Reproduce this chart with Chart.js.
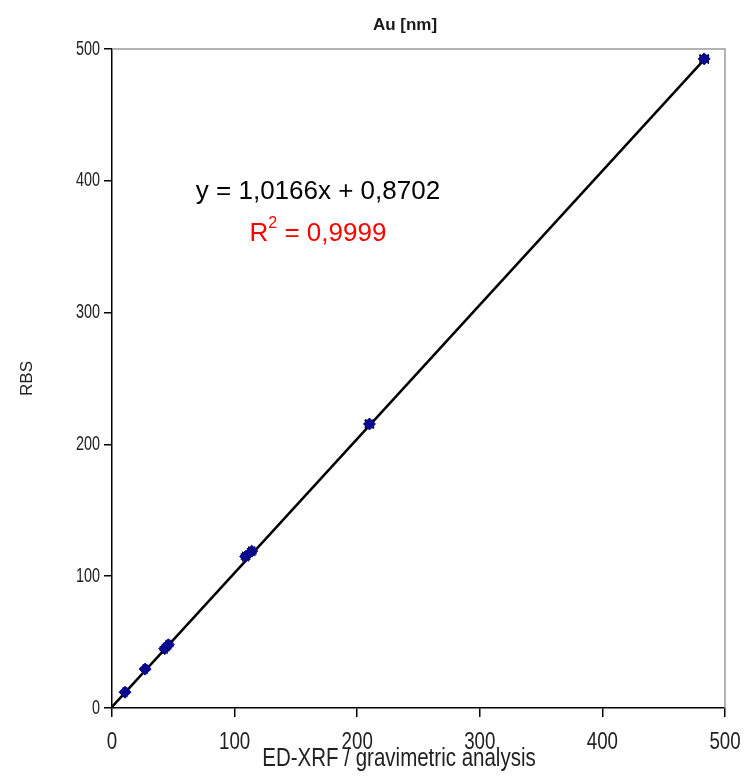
<!DOCTYPE html>
<html>
<head>
<meta charset="utf-8">
<script src="https://cdn.jsdelivr.net/npm/chart.js@4"></script>
<style>
  body { margin: 0; background: #fff; }
  canvas { display: block; }
</style>
</head>
<body>
<canvas id="auChart" width="749" height="779"></canvas>
<script>
// measured values (ED-XRF / gravimetric vs RBS), Au thickness in nm
const xVals = [10.6, 27, 43, 46, 109, 114, 210, 483];
const yVals = [12, 29.5, 45, 48, 115, 119, 215.5, 492.5];
const xErr  = [1.5, 1.5, 2, 2, 2.5, 2.5, 3, 3.3];
const yErr  = [1, 1, 1.5, 1.5, 2, 2, 2.5, 2.5];
const xTicks = [0, 100, 200, 300, 400, 500];
const yTicks = [0, 100, 200, 300, 400, 500];

// trendline from the fitted equation shown on the chart
const slope = 1.0166, intercept = 0.8702;
const trendX = [0, 486];
const eqAnchor = [168, 392];   // data position of the equation label

const points = xVals.map((x, i) => ({x: x, y: yVals[i]}));
const trend = trendX.map(x => ({x: x, y: slope * x + intercept}));

const SANS = '"Liberation Sans", Arial, sans-serif';

// narrow-looking text (original uses a condensed face)
function narrowText(ctx, txt, x, y, size, squeeze, align) {
  ctx.save();
  ctx.translate(x, y);
  ctx.scale(squeeze, 1);
  ctx.font = size + 'px ' + SANS;
  ctx.textAlign = align;
  ctx.fillText(txt, 0, 0);
  ctx.restore();
}

const extras = {
  id: 'extras',
  beforeDatasetsDraw(chart) {
    const {ctx, chartArea: a, scales: {x, y}} = chart;
    ctx.save();
    ctx.strokeStyle = '#9a9a9a';
    ctx.lineWidth = 1.5;
    ctx.beginPath();
    ctx.moveTo(a.left, a.top);
    ctx.lineTo(a.right, a.top);
    ctx.lineTo(a.right, a.bottom);
    ctx.stroke();

    // error bars
    ctx.strokeStyle = '#000';
    ctx.lineWidth = 1.2;
    const cap = 5;
    points.forEach((p, i) => {
      const px = x.getPixelForValue(p.x), py = y.getPixelForValue(p.y);
      const x0 = x.getPixelForValue(p.x - xErr[i]), x1 = x.getPixelForValue(p.x + xErr[i]);
      const y0 = y.getPixelForValue(p.y - yErr[i]), y1 = y.getPixelForValue(p.y + yErr[i]);
      ctx.beginPath();
      ctx.moveTo(x0, py); ctx.lineTo(x1, py);
      ctx.moveTo(x0, py - cap); ctx.lineTo(x0, py + cap);
      ctx.moveTo(x1, py - cap); ctx.lineTo(x1, py + cap);
      ctx.moveTo(px, y0); ctx.lineTo(px, y1);
      ctx.moveTo(px - cap, y0); ctx.lineTo(px + cap, y0);
      ctx.moveTo(px - cap, y1); ctx.lineTo(px + cap, y1);
      ctx.stroke();
    });
    ctx.restore();
  },
  afterDraw(chart) {
    const {ctx, scales: {x, y}} = chart;
    ctx.save();
    ctx.textBaseline = 'middle';

    // tick labels
    ctx.fillStyle = '#222';
    x.ticks.forEach(t => narrowText(ctx, String(t.value), x.getPixelForValue(t.value), 742, 24, 0.78, 'center'));
    y.ticks.forEach(t => narrowText(ctx, String(t.value), 100, y.getPixelForValue(t.value), 20, 0.72, 'right'));

    ctx.textAlign = 'center';
    ctx.fillStyle = '#1a1a1a';
    ctx.font = 'bold 17px ' + SANS;
    ctx.fillText('Au [nm]', 405, 25);

    ctx.fillStyle = '#222';
    narrowText(ctx, 'ED-XRF / gravimetric analysis', 399, 759, 25, 0.82, 'center');

    // regression equation
    const ex = x.getPixelForValue(eqAnchor[0]), ey = y.getPixelForValue(eqAnchor[1]);
    ctx.fillStyle = '#000';
    ctx.font = '26px ' + SANS;
    ctx.fillText('y = 1,0166x + 0,8702', ex, ey);

    ctx.fillStyle = '#ff0000';
    ctx.textAlign = 'left';
    const big = '26px ' + SANS;
    const small = '16px ' + SANS;
    ctx.font = big;
    const wR = ctx.measureText('R').width, wRest = ctx.measureText(' = 0,9999').width;
    ctx.font = small;
    const w2 = ctx.measureText('2').width;
    const tx = ex - (wR + w2 + wRest) / 2;
    const ry = ey + 42;
    ctx.font = big;
    ctx.fillText('R', tx, ry);
    ctx.font = small;
    ctx.fillText('2', tx + wR, ry - 10);
    ctx.font = big;
    ctx.fillText(' = 0,9999', tx + wR + w2, ry);
    ctx.restore();
  }
};

const auChart = new Chart(document.getElementById('auChart').getContext('2d'), {
  type: 'scatter',
  data: {
    datasets: [{
      label: 'Trend',
      type: 'line',
      data: trend,
      borderColor: '#000',
      borderWidth: 2.5,
      pointRadius: 0,
      fill: false,
      order: 2
    }, {
      label: 'Au',
      data: points,
      pointStyle: 'rectRot',
      pointRadius: 6,
      backgroundColor: '#0a0a90',
      borderColor: '#0a0a90',
      borderWidth: 1,
      order: 1
    }]
  },
  options: {
    responsive: false,
    animation: false,
    layout: { padding: { top: 49, right: 24, left: 0, bottom: 0 } },
    plugins: {
      legend: { display: false },
      tooltip: { enabled: false }
    },
    scales: {
      x: {
        type: 'linear',
        min: 0, max: 500,
        afterBuildTicks: s => { s.ticks = xTicks.map(v => ({value: v})); },
        afterFit: s => { s.height = 71; },
        grid: { drawOnChartArea: false, drawTicks: true, tickLength: 9, color: '#000', lineWidth: 1.5 },
        border: { display: true, color: '#000', width: 1.5 },
        ticks: { display: false }
      },
      y: {
        type: 'linear',
        min: 0, max: 500,
        afterBuildTicks: s => { s.ticks = yTicks.map(v => ({value: v})); },
        afterFit: s => { s.width = 112; },
        grid: { drawOnChartArea: false, drawTicks: true, tickLength: 8, color: '#000', lineWidth: 1.5 },
        border: { display: true, color: '#000', width: 1.5 },
        title: {
          display: true,
          text: 'RBS',
          color: '#222',
          padding: { top: 17, bottom: 0 },
          font: { family: SANS, size: 17 }
        },
        ticks: { display: false }
      }
    }
  },
  plugins: [extras]
});
</script>
</body>
</html>
